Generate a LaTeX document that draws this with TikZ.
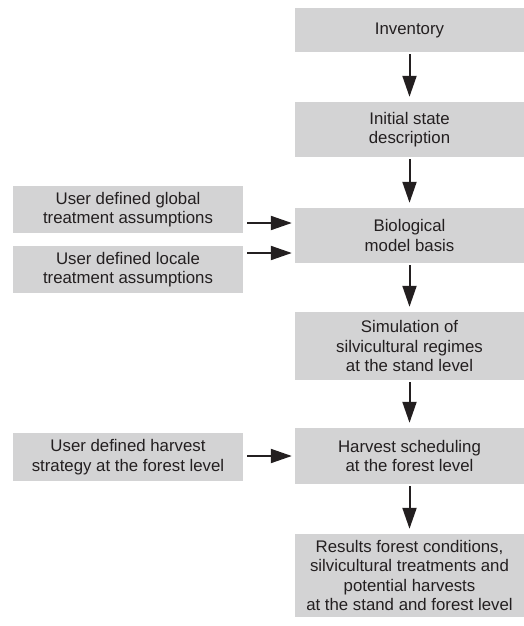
\documentclass[tikz,border=0pt]{standalone}
\usepackage{fontspec}
\setmainfont{Liberation Sans}
\usetikzlibrary{arrows.meta,positioning,calc}
\definecolor{boxgray}{RGB}{211,211,212}
\definecolor{ink}{RGB}{35,31,32}

\begin{document}
\begin{tikzpicture}[x=1pt, y=1pt,
    box/.style={fill=boxgray, text=ink, align=center, inner sep=0pt, font=\fontsize{16.8}{19.5}\selectfont},
    rbox/.style={box, minimum width=229pt},
    lbox/.style={box, minimum width=230pt},
    arr/.style={-{Triangle[length=21pt,width=14pt]}, line width=2pt, draw=ink}]
    \useasboundingbox (0,0) rectangle (524,-626);

    % main column
    \node [rbox, minimum height=44pt] (inv) at (409.5,-30) {Inventory};
    \node [rbox, minimum height=55pt] (init) at (409.5,-129.5) {Initial state\\description};
    \node [rbox, minimum height=55pt] (bio) at (409.5,-235.5) {Biological\\model basis};
    \node [rbox, minimum height=68pt] (sim) at (409.5,-346) {Simulation of\\silvicultural regimes\\at the stand level};
    \node [rbox, minimum height=56pt] (harv) at (409.5,-456) {Harvest scheduling\\at the forest level};
    \node [rbox, minimum height=83pt] (res) at (409.5,-575.5) {Results forest conditions,\\silvicultural treatments and\\potential harvests\\at the stand and forest level};

    % user inputs
    \node [lbox, minimum height=47pt] (glob) at (128,-209.5) {User defined global\\treatment assumptions};
    \node [lbox, minimum height=47pt] (loc) at (128,-269.5) {User defined locale\\treatment assumptions};
    \node [lbox, minimum height=48pt] (strat) at (128,-457) {User defined harvest\\strategy at the forest level};

    \foreach \a/\b in {inv/init, init/bio, bio/sim, sim/harv, harv/res}
        \draw [arr, shorten <=2pt, shorten >=5pt] (\a) -- (\b);

    \draw [arr, shorten <=4pt, shorten >=3pt] ([yshift=-13.5pt]glob.east) -- ([yshift=-13.5pt]glob.east -| bio.west);
    \draw [arr, shorten <=4pt, shorten >=3pt] ([yshift=16.5pt]loc.east) -- ([yshift=16.5pt]loc.east -| bio.west);
    \draw [arr, shorten <=4pt, shorten >=3pt] ([yshift=1pt]strat.east) -- ([yshift=1pt]strat.east -| harv.west);
\end{tikzpicture}
\end{document}
